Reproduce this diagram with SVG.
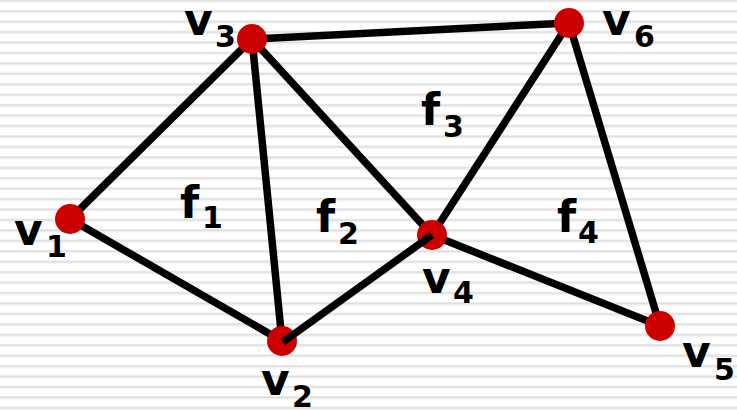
<svg xmlns="http://www.w3.org/2000/svg" width="737" height="410" viewBox="0 0 737 410">
<defs>
<pattern id="stripes" x="0" y="-0.6" width="737" height="10.44" patternUnits="userSpaceOnUse">
<rect x="0" y="0" width="737" height="1" fill="#e8e8e8"/>
<rect x="0" y="1" width="737" height="1.2" fill="#dcdcdc"/>
<rect x="0" y="2.2" width="737" height="1" fill="#ebebeb"/>
</pattern>
<style>
.edge{stroke:#000;stroke-width:7.5;stroke-linecap:butt;fill:none}
.dot{fill:#cc0000}
.lbl{font-family:"DejaVu Sans","Verdana",sans-serif;font-weight:bold;font-size:44px;fill:#000}
.sub{font-size:30px}
</style>
</defs>
<rect width="737" height="410" fill="#fff"/>
<rect width="737" height="410" fill="url(#stripes)"/>
<g id="connectors">
<line class="edge" x1="70" y1="219" x2="252" y2="39"/>
<line class="edge" x1="70" y1="219" x2="282" y2="341"/>
<line class="edge" x1="252" y1="39" x2="282" y2="341"/>
<line class="edge" x1="252" y1="39" x2="432" y2="235"/>
<line class="edge" x1="252" y1="39" x2="569" y2="23"/>
<line class="edge" x1="432" y1="235" x2="569" y2="23"/>
<line class="edge" x1="432" y1="235" x2="660" y2="326"/>
<line class="edge" x1="569" y1="23" x2="660" y2="326"/>
</g>
<g id="v1"><circle class="dot" cx="70" cy="219" r="15"/><text class="lbl" x="14" y="245">v<tspan class="sub" x="46" y="257">1</tspan></text></g>
<g id="v2"><circle class="dot" cx="282" cy="341" r="15"/><text class="lbl" x="261" y="395">v<tspan class="sub" x="292" y="407">2</tspan></text></g>
<g id="v3"><circle class="dot" cx="252" cy="39" r="15"/><text class="lbl" x="184" y="35">v<tspan class="sub" x="215" y="47">3</tspan></text></g>
<g id="v4"><circle class="dot" cx="432" cy="235" r="15"/><text class="lbl" x="422" y="293">v<tspan class="sub" x="453" y="303">4</tspan></text></g>
<g id="v5"><circle class="dot" cx="660" cy="326" r="15"/><text class="lbl" x="682" y="367">v<tspan class="sub" x="714" y="380">5</tspan></text></g>
<g id="v6"><circle class="dot" cx="569" cy="23" r="15"/><text class="lbl" x="602" y="35">v<tspan class="sub" x="634" y="47">6</tspan></text></g>
<g id="connectors-over">
<line class="edge" x1="283" y1="342" x2="432" y2="235"/>
</g>
<g id="f1"><text class="lbl" x="180" y="218">f<tspan class="sub" x="202" y="228">1</tspan></text></g>
<g id="f2"><text class="lbl" x="316" y="232">f<tspan class="sub" x="338" y="244">2</tspan></text></g>
<g id="f3"><text class="lbl" x="421" y="125">f<tspan class="sub" x="443" y="137">3</tspan></text></g>
<g id="f4"><text class="lbl" x="557" y="232">f<tspan class="sub" x="578" y="243">4</tspan></text></g>
</svg>
